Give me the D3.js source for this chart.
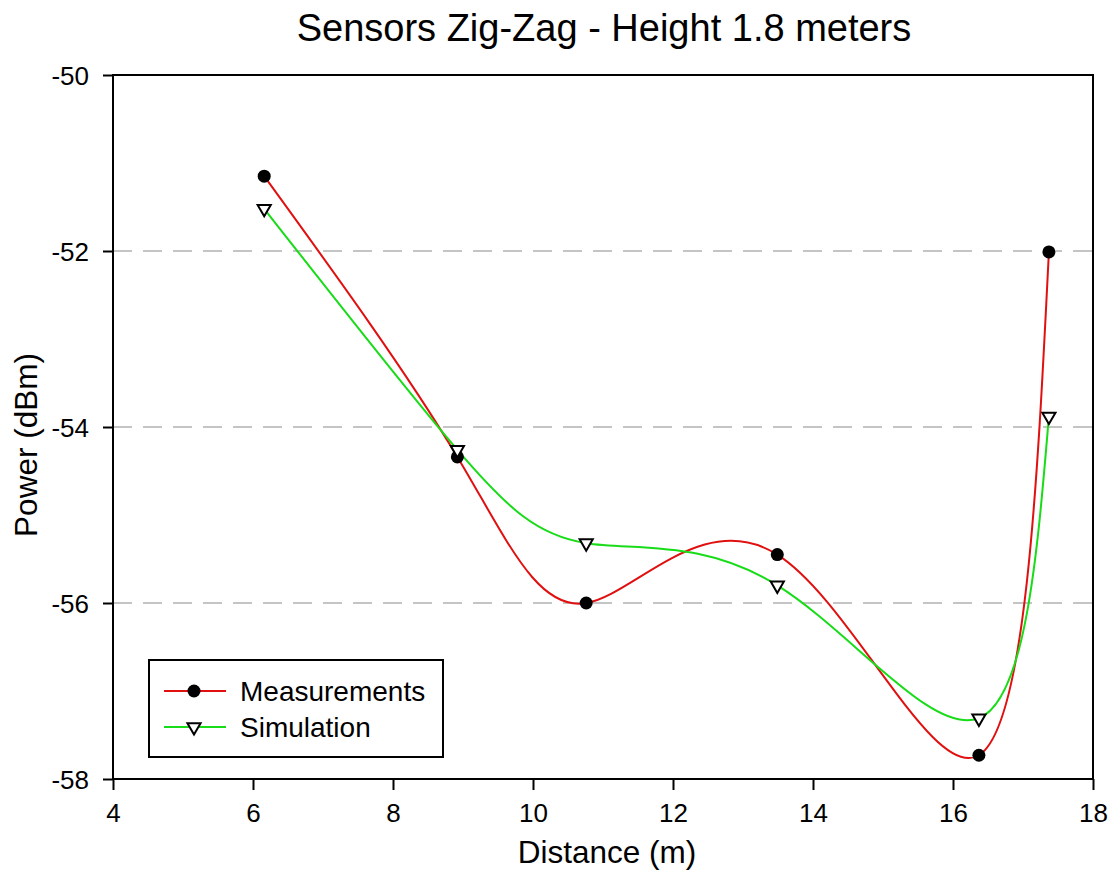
<!DOCTYPE html>
<html>
<head>
<meta charset="utf-8">
<script src="https://cdn.jsdelivr.net/npm/d3@7"></script>
<style>
  html, body { margin: 0; padding: 0; background: #ffffff; }
  svg { display: block; font-family: "Liberation Sans", Arial, sans-serif; }
</style>
</head>
<body>
<svg id="chart" width="1120" height="872"></svg>
<script>
// Received power along the zig-zag sensor layout (height 1.8 m)
const distance = [6.16, 8.92, 10.76, 13.49, 16.37, 17.37];
const measurements = [-51.15, -54.34, -56.00, -55.45, -57.73, -52.01];
const simulation = [-51.52, -54.26, -55.32, -55.80, -57.31, -53.88];

const xTicks = [4, 6, 8, 10, 12, 14, 16, 18];
const yTicks = [-50, -52, -54, -56, -58];
const gridValues = [-52, -54, -56];

const seriesNames = ["Measurements", "Simulation"];
const seriesColors = ["#e01010", "#18dc18"];

const svg = d3.select("#chart");
const margin = { left: 113, right: 27, top: 75, bottom: 93 };
const W = 1120, H = 872;

const x = d3.scaleLinear().domain([4, 18]).range([margin.left, W - margin.right]);
const y = d3.scaleLinear().domain([-58, -50]).range([H - margin.bottom, margin.top]);

// Dashed horizontal reference lines
svg.append("g").selectAll("line").data(gridValues).join("line")
  .attr("x1", x(4)).attr("x2", x(18))
  .attr("y1", d => y(d)).attr("y2", d => y(d))
  .attr("stroke", "#c4c4c4").attr("stroke-width", 2)
  .attr("stroke-dasharray", "19,11");

// Axes
const xAxis = d3.axisBottom(x).tickValues(xTicks).tickSize(11).tickPadding(14).tickFormat(d3.format("d"));
const yAxis = d3.axisLeft(y).tickValues(yTicks).tickSize(10).tickPadding(14).tickFormat(d => d3.format("d")(d).replace("−", "-"));

const gx = svg.append("g").attr("transform", `translate(0,${y(-58)})`).call(xAxis);
const gy = svg.append("g").attr("transform", `translate(${x(4)},0)`).call(yAxis);
[gx, gy].forEach(g => {
  g.select(".domain").remove();
  g.selectAll(".tick line").attr("stroke", "#000").attr("stroke-width", 2);
  g.selectAll(".tick text").attr("fill", "#000").style("font-size", "26px")
    .style("font-family", "'Liberation Sans', Arial, sans-serif");
});
gx.selectAll(".tick text").attr("dy", "0.71em");
gy.selectAll(".tick text").attr("dy", "0.36em");

// Frame around the plotting area
svg.append("rect")
  .attr("x", x(4)).attr("y", y(-50))
  .attr("width", x(18) - x(4)).attr("height", y(-58) - y(-50))
  .attr("fill", "none").attr("stroke", "#000").attr("stroke-width", 2);

// Smooth spline curves through each series
const line = d3.line().curve(d3.curveNatural);
const series = [measurements, simulation];
series.forEach((vals, i) => {
  svg.append("path")
    .attr("d", line(distance.map((d, k) => [x(d), y(vals[k])])))
    .attr("fill", "none")
    .attr("stroke", seriesColors[i])
    .attr("stroke-width", 2);
});

// Markers
const tri = d3.symbol().type(d3.symbolTriangle).size(75);
svg.append("g").selectAll("circle").data(distance).join("circle")
  .attr("cx", d => x(d)).attr("cy", (d, i) => y(measurements[i]))
  .attr("r", 6.5).attr("fill", "#000");
svg.append("g").selectAll("path").data(distance).join("path")
  .attr("d", tri)
  .attr("transform", (d, i) => `translate(${x(d)},${y(simulation[i])}) rotate(180)`)
  .attr("fill", "#fff").attr("stroke", "#000").attr("stroke-width", 2);

// Titles
svg.append("text")
  .attr("x", 604).attr("y", 41)
  .attr("text-anchor", "middle")
  .style("font-size", "38px")
  .text("Sensors Zig-Zag - Height 1.8 meters");

svg.append("text")
  .attr("x", 607).attr("y", 863)
  .attr("text-anchor", "middle")
  .style("font-size", "31.5px")
  .text("Distance (m)");

svg.append("text")
  .attr("transform", "translate(37,445) rotate(-90)")
  .attr("text-anchor", "middle")
  .style("font-size", "31.5px")
  .text("Power (dBm)");

// Legend
const legend = svg.append("g");
legend.append("rect")
  .attr("x", 149).attr("y", 660).attr("width", 294).attr("height", 97)
  .attr("fill", "#fff").attr("stroke", "#000").attr("stroke-width", 2);
const rows = [691, 727];
seriesNames.forEach((name, i) => {
  legend.append("line")
    .attr("x1", 164).attr("x2", 226).attr("y1", rows[i]).attr("y2", rows[i])
    .attr("stroke", seriesColors[i]).attr("stroke-width", 2);
  if (i === 0) {
    legend.append("circle").attr("cx", 194).attr("cy", rows[i]).attr("r", 6.5).attr("fill", "#000");
  } else {
    legend.append("path").attr("d", tri)
      .attr("transform", `translate(194,${rows[i]}) rotate(180)`)
      .attr("fill", "#fff").attr("stroke", "#000").attr("stroke-width", 2);
  }
  legend.append("text")
    .attr("x", 240).attr("y", rows[i] + 10)
    .style("font-size", "28px")
    .text(name);
});
</script>
</body>
</html>
